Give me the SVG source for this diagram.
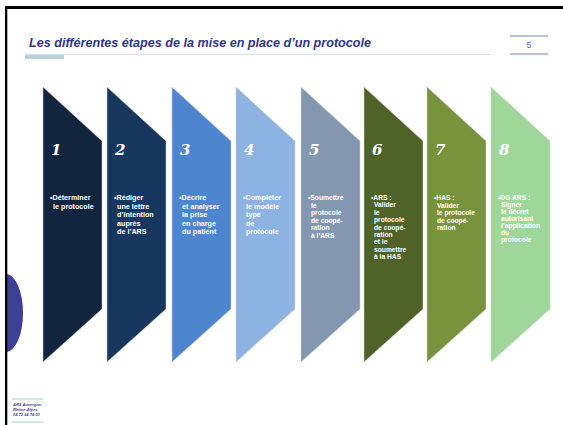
<svg xmlns="http://www.w3.org/2000/svg" width="563" height="425" viewBox="0 0 563 425">
<style>
.num{font-family:"DejaVu Serif","Liberation Serif",serif;font-weight:bold;font-style:italic;font-size:15px;fill:#ffffff}
.t{font-family:"Liberation Sans",Arial,sans-serif;font-weight:bold;font-size:7.2px;fill:#ffffff}
.s{font-family:"Liberation Sans",Arial,sans-serif;font-weight:bold;font-size:6.7px;fill:#ffffff}
.chev{stroke:#d0d0d0;stroke-width:0.5}
.foot{font-family:"Liberation Sans",Arial,sans-serif;font-weight:bold;font-style:italic;font-size:4px;fill:#3a3f8f}
</style>
<defs>
<path id="chev" d="M0,0 L59,54 L59,222 L0,275 Z"/>
<clipPath id="cl"><rect x="7" y="0" width="60" height="425"/></clipPath>
</defs>
<rect width="563" height="425" fill="#ffffff"/>
<ellipse cx="6" cy="313" rx="17" ry="39" fill="#3d3f97" clip-path="url(#cl)"/>
<rect x="5" y="6" width="558" height="3" fill="#000000"/>
<rect x="5" y="6" width="2.3" height="419" fill="#000000"/>
<g id="title">
<text x="29" y="47" font-family="'Liberation Sans',Arial,sans-serif" font-weight="bold" font-style="italic" font-size="12.5" fill="#2f368c" textLength="342" lengthAdjust="spacingAndGlyphs">Les différentes étapes de la mise en place d’un protocole</text>
<line x1="25" y1="54.5" x2="490" y2="54.5" stroke="#d3e3e6" stroke-width="1"/>
<rect x="25" y="55" width="39" height="4" fill="#b7d3d8"/>
</g>
<g id="page">
<line x1="510" y1="36" x2="548" y2="36" stroke="#7a83c2" stroke-width="1.2"/>
<line x1="510" y1="54" x2="548" y2="54" stroke="#7a83c2" stroke-width="1.2"/>
<text x="529" y="48" text-anchor="middle" font-family="'Liberation Sans',Arial,sans-serif" font-size="9" fill="#5a63b0">5</text>
</g>
<g id="step1" transform="translate(43,87)">
<use href="#chev" class="chev" fill="#13243f"/>
<text class="num" x="8" y="68">1</text>
<text class="t" x="7" y="113">•Déterminer<tspan x="10" dy="8.5">le protocole</tspan></text>
</g>
<g id="step2" transform="translate(107,87)">
<use href="#chev" class="chev" fill="#18375f"/>
<text class="num" x="8" y="68">2</text>
<text class="t" x="7" y="113">•Rédiger<tspan x="10" dy="8.5">une lettre</tspan><tspan x="10" dy="8.5">d’intention</tspan><tspan x="10" dy="8.5">auprès</tspan><tspan x="10" dy="8.5">de l’ARS</tspan></text>
</g>
<g id="step3" transform="translate(172,87)">
<use href="#chev" class="chev" fill="#4d86cf"/>
<text class="num" x="8" y="68">3</text>
<text class="t" x="7" y="113">•Décrire<tspan x="10" dy="8.5">et analyser</tspan><tspan x="10" dy="8.5">la prise</tspan><tspan x="10" dy="8.5">en charge</tspan><tspan x="10" dy="8.5">du patient</tspan></text>
</g>
<g id="step4" transform="translate(236,87)">
<use href="#chev" class="chev" fill="#8db3e2"/>
<text class="num" x="8" y="68">4</text>
<text class="t" x="7" y="113">•Compléter<tspan x="10" dy="8.5">le modèle</tspan><tspan x="10" dy="8.5">type</tspan><tspan x="10" dy="8.5">de</tspan><tspan x="10" dy="8.5">protocole</tspan></text>
</g>
<g id="step5" transform="translate(301,87)">
<use href="#chev" class="chev" fill="#8497b0"/>
<text class="num" x="8" y="68">5</text>
<text class="s" x="7" y="113">•Soumettre<tspan x="10" dy="7.6">le</tspan><tspan x="10" dy="7.6">protocole</tspan><tspan x="10" dy="7.6">de coopé-</tspan><tspan x="10" dy="7.6">ration</tspan><tspan x="10" dy="7.6">à l’ARS</tspan></text>
</g>
<g id="step6" transform="translate(364,87)">
<use href="#chev" class="chev" fill="#4f6228"/>
<text class="num" x="8" y="68">6</text>
<text class="s" x="7" y="113">•ARS :<tspan x="10" dy="7.4">Valider</tspan><tspan x="10" dy="7.4">le</tspan><tspan x="10" dy="7.4">protocole</tspan><tspan x="10" dy="7.4">de coopé-</tspan><tspan x="10" dy="7.4">ration</tspan><tspan x="10" dy="7.4">et le</tspan><tspan x="10" dy="7.4">soumettre</tspan><tspan x="10" dy="7.4">à la HAS</tspan></text>
</g>
<g id="step7" transform="translate(427,87)">
<use href="#chev" class="chev" fill="#77933c"/>
<text class="num" x="8" y="68">7</text>
<text class="s" x="7" y="113">•HAS :<tspan x="10" dy="7.6">Valider</tspan><tspan x="10" dy="7.6">le protocole</tspan><tspan x="10" dy="7.6">de coopé-</tspan><tspan x="10" dy="7.6">ration</tspan></text>
</g>
<g id="step8" transform="translate(491,87)">
<use href="#chev" class="chev" fill="#9fd79a"/>
<text class="num" x="8" y="68">8</text>
<text class="s" x="7" y="113">•DG ARS :<tspan x="10" dy="7">Signer</tspan><tspan x="10" dy="7">le décret</tspan><tspan x="10" dy="7">autorisant</tspan><tspan x="10" dy="7">l’application</tspan><tspan x="10" dy="7">du</tspan><tspan x="10" dy="7">protocole</tspan></text>
</g>
<g id="connectors"></g>
<g id="footer">
<line x1="12" y1="399" x2="43" y2="399" stroke="#8fc3c8" stroke-width="0.8"/>
<line x1="12" y1="422" x2="43" y2="422" stroke="#8fc3c8" stroke-width="0.8"/>
<text class="foot" x="13" y="406">ARS Auvergne-<tspan x="13" dy="4.8">Rhône-Alpes</tspan><tspan x="13" dy="4.8">04 72 34 74 00</tspan></text>
</g>
</svg>
